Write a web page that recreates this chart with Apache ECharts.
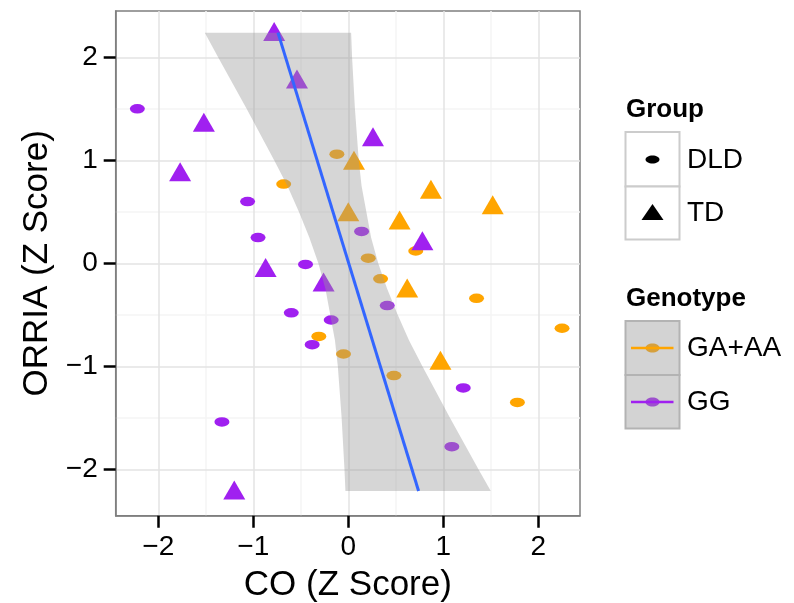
<!DOCTYPE html>
<html lang="en">
<head>
    <meta charset="UTF-8">
    <title>ORRIA vs CO</title>
    <script src="https://cdn.jsdelivr.net/npm/echarts@6/dist/echarts.min.js"></script>
    <style>
        body { margin: 0; background: #fff; }
        #main { width: 794px; height: 603px; }
    </style>
</head>
<body>
    <div id="main"></div>
    <script>
        // points: [CO, ORRIA]
        var dldGA = [[-0.12, 1.06], [-0.68, 0.77], [0.21, 0.05], [0.71, 0.12], [0.34, -0.15], [1.35, -0.34],
            [2.25, -0.63], [-0.31, -0.71], [-0.05, -0.88], [0.48, -1.09], [1.78, -1.35]];
        var dldGG = [[-2.22, 1.50], [-1.06, 0.60], [-0.95, 0.25], [-0.45, -0.01], [0.14, 0.31], [-0.60, -0.48],
            [-0.18, -0.55], [-0.38, -0.79], [0.41, -0.41], [1.21, -1.21], [-1.33, -1.54], [1.09, -1.78]];
        var tdGA = [[0.06, 1.00], [0.00, 0.50], [0.87, 0.72], [1.52, 0.57], [0.54, 0.42], [0.62, -0.24], [0.97, -0.94]];
        var tdGG = [[-0.78, 2.25], [-0.54, 1.79], [-1.52, 1.37], [-1.77, 0.89], [0.26, 1.23], [0.78, 0.22],
            [-0.87, -0.04], [-0.26, -0.18], [-1.20, -2.20]];

        // fitted line and its band (band edges read at these ORRIA levels)
        var fitLine = [[-0.74, 2.24], [0.74, -2.21]];
        var bandY = [2.24, 2.0, 1.5, 1.0, 0.75, 0.5, 0.25, 0, -0.25, -0.5, -0.75, -1.0, -1.5, -2.0, -2.21];
        var bandLeft = [-1.51, -1.37, -1.07, -0.78, -0.64, -0.52, -0.41, -0.315, -0.24, -0.19, -0.14, -0.11, -0.07, -0.04, -0.03];
        var bandRight = [0.03, 0.04, 0.07, 0.11, 0.14, 0.19, 0.24, 0.315, 0.41, 0.52, 0.64, 0.78, 1.07, 1.37, 1.50];

        var tickVals = [-2, -1, 0, 1, 2];
        var minorVals = [-1.5, -0.5, 0.5, 1.5];

        var ORANGE = '#FFA500', PURPLE = '#A020F0';
        var ELLIPSE = 'path://M0,1 A1,1 0 1,1 2,1 A1,1 0 1,1 0,1 Z';
        var FONT = '"Liberation Sans", Arial, sans-serif';

        function fmt(v) { return v < 0 ? '\u2212' + Math.abs(v) : String(v); }

        var gridLines = [];
        minorVals.forEach(function (v) {
            gridLines.push({ xAxis: v, lineStyle: { color: '#F5F5F5', width: 1.5, type: 'solid' } });
            gridLines.push({ yAxis: v, lineStyle: { color: '#F5F5F5', width: 1.5, type: 'solid' } });
        });
        tickVals.forEach(function (v) {
            gridLines.push({ xAxis: v, lineStyle: { color: '#E3E3E3', width: 1.5, type: 'solid' } });
            gridLines.push({ yAxis: v, lineStyle: { color: '#E3E3E3', width: 1.5, type: 'solid' } });
        });

        function axisCommon() {
            return {
                type: 'value',
                splitLine: { show: false },
                axisLine: { show: true, onZero: false, lineStyle: { color: '#7F7F7F', width: 1.5 } },
                axisTick: { show: true, customValues: tickVals, length: 12, lineStyle: { color: '#000', width: 2.5 } },
                axisLabel: {
                    customValues: tickVals, formatter: fmt, color: '#000',
                    fontSize: 28, fontFamily: FONT, margin: 18
                },
                nameLocation: 'middle',
                nameTextStyle: { color: '#000', fontSize: 35, fontFamily: FONT }
            };
        }

        var xAxis = axisCommon();
        xAxis.min = -2.448; xAxis.max = 2.439;
        xAxis.name = 'CO (Z Score)'; xAxis.nameGap = 52;
        var yAxis = axisCommon();
        yAxis.min = -2.45; yAxis.max = 2.45;
        yAxis.name = 'ORRIA (Z Score)'; yAxis.nameGap = 58;

        var myChart = echarts.init(document.getElementById('main'));
        var option = {
            animation: false,
            grid: {
                left: 115.7, right: 214, top: 11, bottom: 87.3,
                show: true, borderColor: '#7F7F7F', borderWidth: 1.5, backgroundColor: '#fff',
                outerBoundsMode: 'none'
            },
            xAxis: xAxis,
            yAxis: yAxis,
            series: [
                {
                    type: 'scatter', data: [], z: 0, silent: true,
                    markLine: { silent: true, z: 0, symbol: 'none', label: { show: false }, animation: false, data: gridLines }
                },
                { type: 'scatter', data: dldGA, symbol: ELLIPSE, symbolSize: [15, 9.5], itemStyle: { color: ORANGE, opacity: 1 }, z: 2 },
                { type: 'scatter', data: dldGG, symbol: ELLIPSE, symbolSize: [15, 9.5], itemStyle: { color: PURPLE, opacity: 1 }, z: 2 },
                { type: 'scatter', data: tdGA, symbol: 'triangle', symbolSize: [22, 19], itemStyle: { color: ORANGE, opacity: 1 }, z: 2 },
                { type: 'scatter', data: tdGG, symbol: 'triangle', symbolSize: [22, 19], itemStyle: { color: PURPLE, opacity: 1 }, z: 2 },
                {
                    type: 'custom', z: 3, silent: true, data: [[0, 0]],
                    renderItem: function (params, api) {
                        var pts = [];
                        for (var i = 0; i < bandY.length; i++) pts.push(api.coord([bandLeft[i], bandY[i]]));
                        for (var j = bandY.length - 1; j >= 0; j--) pts.push(api.coord([bandRight[j], bandY[j]]));
                        return { type: 'polygon', shape: { points: pts }, style: { fill: 'rgba(153,153,153,0.4)' } };
                    }
                },
                {
                    type: 'line', data: fitLine, z: 4, symbol: 'none', silent: true,
                    lineStyle: { color: '#3366FF', width: 3 }
                }
            ],
            graphic: [
                // Group legend
                { type: 'text', left: 626, top: 97, style: { text: 'Group', font: 'bold 26px ' + FONT, fill: '#000' } },
                { type: 'rect', shape: { x: 625.5, y: 132, width: 54, height: 54.5 }, style: { fill: '#fff', stroke: '#CCCCCC', lineWidth: 2 } },
                { type: 'rect', shape: { x: 625.5, y: 186.5, width: 54, height: 53 }, style: { fill: '#fff', stroke: '#CCCCCC', lineWidth: 2 } },
                { type: 'ellipse', shape: { cx: 652.5, cy: 159.5, rx: 7, ry: 4 }, style: { fill: '#000' } },
                { type: 'polygon', shape: { points: [[641.5, 220], [663.5, 220], [652.5, 204]] }, style: { fill: '#000' } },
                { type: 'text', left: 687, top: 146, style: { text: 'DLD', font: '28px ' + FONT, fill: '#000' } },
                { type: 'text', left: 687, top: 199, style: { text: 'TD', font: '28px ' + FONT, fill: '#000' } },
                // Genotype legend
                { type: 'text', left: 626, top: 286, style: { text: 'Genotype', font: 'bold 26px ' + FONT, fill: '#000' } },
                { type: 'rect', shape: { x: 625.5, y: 321, width: 54, height: 54 }, style: { fill: '#D3D3D3', stroke: '#B3B3B3', lineWidth: 2 } },
                { type: 'rect', shape: { x: 625.5, y: 375, width: 54, height: 53.5 }, style: { fill: '#D3D3D3', stroke: '#B3B3B3', lineWidth: 2 } },
                { type: 'ellipse', shape: { cx: 652.5, cy: 348, rx: 7, ry: 4.5 }, style: { fill: '#D6A03D' } },
                { type: 'line', shape: { x1: 631, y1: 348, x2: 673.5, y2: 348 }, style: { stroke: ORANGE, lineWidth: 2.5 } },
                { type: 'ellipse', shape: { cx: 652.5, cy: 402, rx: 7, ry: 4.5 }, style: { fill: '#9D50CD' } },
                { type: 'line', shape: { x1: 631, y1: 402, x2: 673.5, y2: 402 }, style: { stroke: PURPLE, lineWidth: 2.5 } },
                { type: 'text', left: 687, top: 334, style: { text: 'GA+AA', font: '28px ' + FONT, fill: '#000' } },
                { type: 'text', left: 687, top: 388, style: { text: 'GG', font: '28px ' + FONT, fill: '#000' } }
            ]
        };
        myChart.setOption(option);
    </script>
</body>
</html>
